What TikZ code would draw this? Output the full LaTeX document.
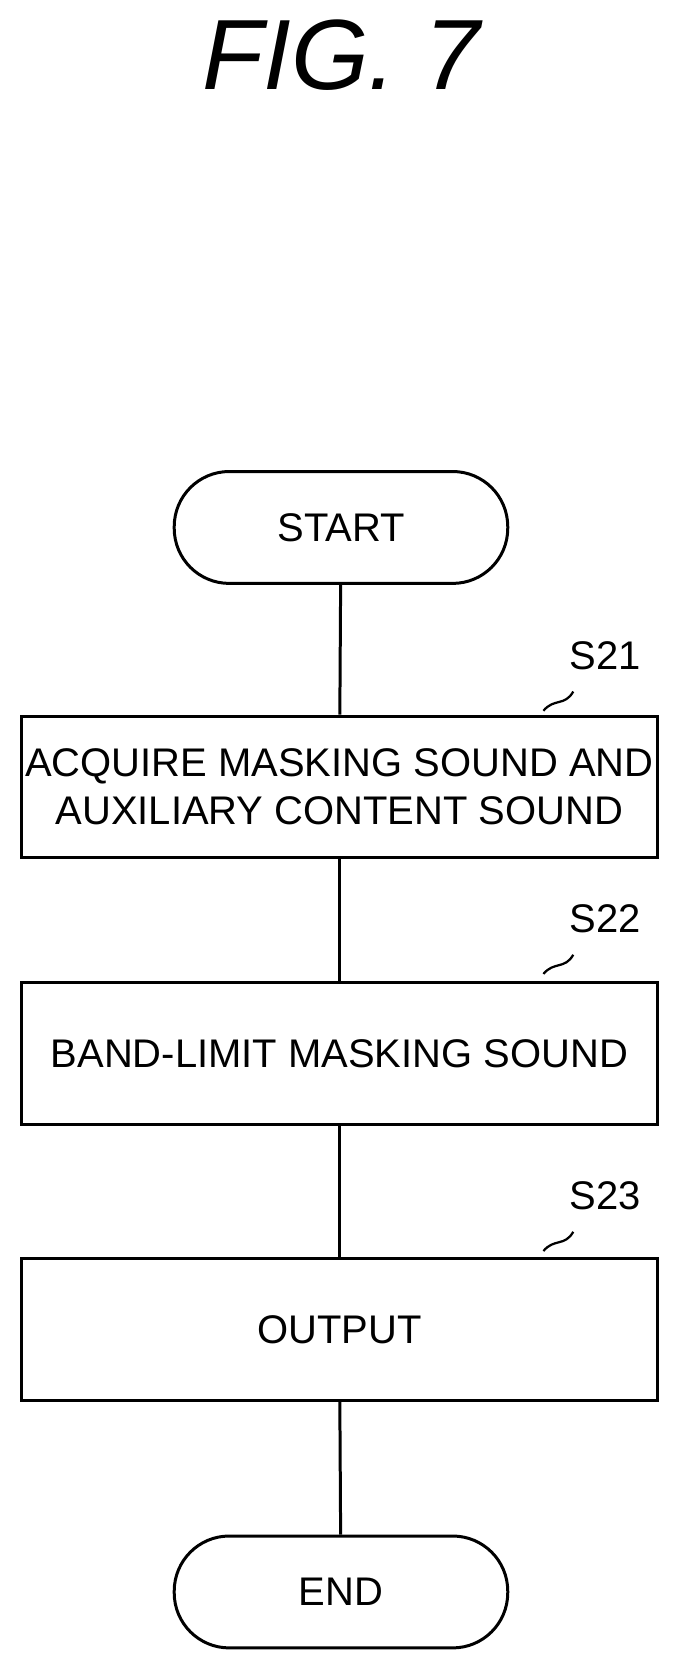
\documentclass[tikz,border=0pt]{standalone}
\usepackage{fontspec}
\setmainfont{Liberation Sans}
\usetikzlibrary{positioning}
\tikzset{
  stepbox/.style={draw, line width=2.4pt, minimum width=17.9cm, minimum height=3.99cm, align=center, font=\fontsize{32}{38}\selectfont},
  terminal/.style={draw, line width=2.4pt, rounded corners=1.55cm, minimum width=9.39cm, minimum height=3.15cm, font=\fontsize{32}{38}\selectfont},
  steplabel/.style={font=\fontsize{32}{38}\selectfont},
}
\begin{document}
\begin{tikzpicture}[x=0.03cm,y=-0.03cm]
    \useasboundingbox (0,0) rectangle (640,1571);
    \node[font=\itshape\fontsize{80}{90}\selectfont] (title) at (320,52) {FIG. 7};
    \node[terminal] (start) at (320,495) {START};
    \node[stepbox] (s21) at (318.5,738.5) {ACQUIRE MASKING SOUND AND\\AUXILIARY CONTENT SOUND};
    \node[stepbox] (s22) at (318.5,988.5) {BAND-LIMIT MASKING SOUND};
    \node[stepbox] (s23) at (318.5,1248) {OUTPUT};
    \node[terminal] (end) at (320,1494) {END};
    % connectors
    \draw[line width=2.4pt] (start) -- (s21);
    \draw[line width=2.4pt] (s21) -- (s22);
    \draw[line width=2.4pt] (s22) -- (s23);
    \draw[line width=2.4pt] (s23) -- (end);
    % step labels
    \foreach \n/\y in {21/615, 22/862, 23/1122} {
        \node[steplabel] (l\n) at (568,\y) {S\n};
        \draw[line width=1.8pt] (510,\y+52) .. controls (520,\y+40) and (530,\y+48) .. (538,\y+34);
    }
\end{tikzpicture}
\end{document}
